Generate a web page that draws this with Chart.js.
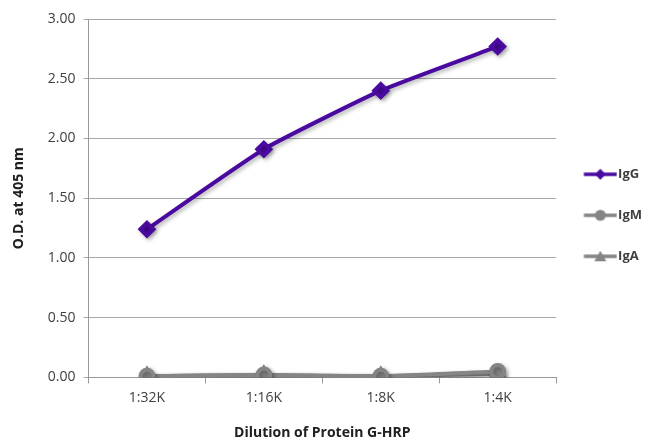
<!DOCTYPE html>
<html><head><meta charset="utf-8">
<script src="https://cdn.jsdelivr.net/npm/chart.js@4/dist/chart.umd.min.js"></script>
<style>html,body{margin:0;padding:0;background:#fff}#wrap{width:652px;height:441px}</style>
</head><body><div id="wrap"><canvas id="c" width="652" height="441"></canvas></div>
<script>
const categories = ['1:32K','1:16K','1:8K','1:4K'];
const igG = [1.24, 1.91, 2.40, 2.77];
const igM = [0.01, 0.02, 0.01, 0.05];
const igA = [0.01, 0.02, 0.01, 0.03];
const yTicks = [0, 0.5, 1, 1.5, 2, 2.5, 3];

const purple = '#4a0aa0';
const gray = '#858585';
const FONT = '"Open Sans", "Liberation Sans", sans-serif';

function legendIcon(color, style) {
  const c = document.createElement('canvas');
  c.width = 39; c.height = 14;
  const x = c.getContext('2d');
  const x0 = 5.5, x1 = 38.5, cx = (x0 + x1) / 2;
  x.strokeStyle = color; x.lineWidth = 3.5;
  x.beginPath(); x.moveTo(x0, 7); x.lineTo(x1, 7); x.stroke();
  x.fillStyle = color;
  x.beginPath();
  if (style === 'diamond') { x.moveTo(cx,1.5); x.lineTo(cx+5.5,7); x.lineTo(cx,12.5); x.lineTo(cx-5.5,7); }
  else if (style === 'circle') { x.arc(cx,7,5.5,0,Math.PI*2); }
  else { x.moveTo(cx,1.5); x.lineTo(cx+6,12); x.lineTo(cx-6,12); }
  x.closePath(); x.fill();
  return c;
}

const shadow = {
  id: 'shadow',
  beforeDatasetsDraw(chart) { const ctx = chart.ctx; ctx.save(); ctx.shadowColor = 'rgba(0,0,0,0.3)'; ctx.shadowBlur = 4; ctx.shadowOffsetX = 2; ctx.shadowOffsetY = 2; },
  afterDatasetsDraw(chart) { chart.ctx.restore(); }
};

new Chart(document.getElementById('c'), {
  type: 'line',
  data: {
    labels: categories,
    datasets: [
      { label: 'IgG', data: igG, borderColor: purple, backgroundColor: purple, borderWidth: 4, pointStyle: 'rectRot', pointRadius: 6.5, tension: 0.15, legendIcon: legendIcon(purple,'diamond') },
      { label: 'IgM', data: igM, borderColor: gray, backgroundColor: gray, borderWidth: 4, pointStyle: 'circle', pointRadius: 6.5, tension: 0.15, legendIcon: legendIcon(gray,'circle') },
      { label: 'IgA', data: igA, borderColor: gray, backgroundColor: gray, borderWidth: 4, pointStyle: 'triangle', pointRadius: 7, tension: 0.15, legendIcon: legendIcon(gray,'triangle') }
    ]
  },
  options: {
    responsive: false,
    animation: false,
    layout: { padding: { top: 19, right: 0, left: 7, bottom: 0 } },
    plugins: {
      tooltip: { enabled: false },
      legend: {
        position: 'right',
        align: 'start',
        title: { display: true, text: ' ', font: { family: FONT, size: 14 }, padding: { top: 104, bottom: 0 } },
        labels: {
          usePointStyle: true,
          pointStyleWidth: 27.5,
          boxHeight: 14,
          padding: 28,
          color: '#404040',
          font: { family: FONT, size: 13, weight: 'bold' },
          generateLabels(chart) {
            return chart.data.datasets.map((d, i) => ({ text: d.label, pointStyle: d.legendIcon, fillStyle: d.borderColor, strokeStyle: d.borderColor, lineWidth: 0, datasetIndex: i, fontColor: '#404040' }));
          }
        }
      }
    },
    scales: {
      x: {
        offset: true,
        grid: { offset: true, drawOnChartArea: false, drawTicks: true, tickLength: 6, color: '#999' },
        border: { color: '#999', width: 1 },
        ticks: { color: '#404040', font: { family: FONT, size: 14 }, padding: 6 },
        title: { display: true, text: 'Dilution of Protein G-HRP', color: '#202020', font: { family: FONT, size: 14, weight: 'bold' }, padding: { top: 12, bottom: 0 } }
      },
      y: {
        min: 0, max: 3,
        afterBuildTicks(axis) { axis.ticks = yTicks.map(v => ({ value: v })); },
        grid: { color: '#a8a8a8', drawTicks: true, tickLength: 5, lineWidth: 1 },
        border: { color: '#999', width: 1 },
        ticks: { color: '#404040', font: { family: FONT, size: 14 }, padding: 8, callback: v => Number(v).toFixed(2) },
        title: { display: true, text: 'O.D. at 405 nm', color: '#202020', font: { family: FONT, size: 14, weight: 'bold' }, padding: { bottom: 12 } }
      }
    }
  },
  plugins: [shadow]
});
</script></body></html>
